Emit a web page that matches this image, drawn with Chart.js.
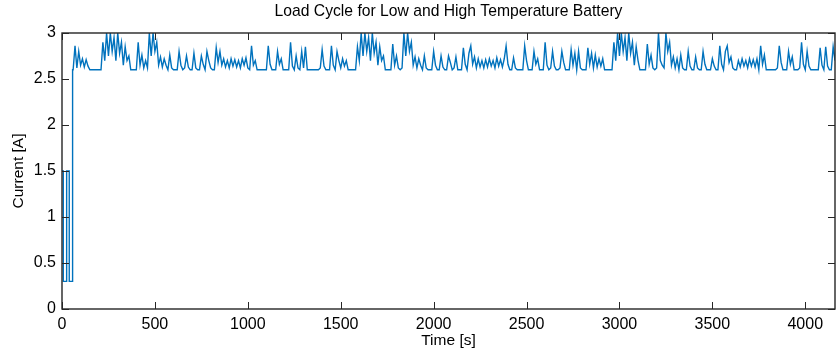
<!DOCTYPE html>
<html>
<head>
<meta charset="utf-8">
<script src="https://cdn.jsdelivr.net/npm/chart.js@4/dist/chart.umd.min.js"></script>
<style>
  html, body { margin: 0; padding: 0; background: #fff; }
  #wrap { width: 838px; height: 353px; position: relative; }
</style>
</head>
<body>
<div id="wrap"><canvas id="loadChart"></canvas></div>
<script>
// pulse phase at the start (time in s, current in A)
const pulseTime = [0, 7, 7, 25, 25, 39, 39, 57, 57];
const pulseCurrent = [1.5, 1.5, 0.3, 0.3, 1.5, 1.5, 0.3, 0.3, 2.6];

// drive cycle, one sample every 10 s starting at 60 s
const cycleStart = 60;
const cycleStep = 10;
const cycleCurrent = [
  2.6, 2.86, 2.62, 2.8,                                       // 60-90
  2.65, 2.72, 2.63, 2.71, 2.64, 2.6, 2.6, 2.6, 2.6, 2.6,      // 100
  2.6, 2.6, 2.9, 2.7, 3.0, 2.75, 3.0, 2.8, 2.95, 2.7,         // 200
  3.0, 2.78, 2.9, 2.65, 2.85, 2.7, 2.75, 2.6, 2.6, 2.6,       // 300
  2.6, 2.9, 2.65, 2.76, 2.62, 2.7, 2.62, 3.0, 2.75, 3.0,      // 400
  2.8, 2.9, 2.65, 2.74, 2.63, 2.72, 2.65, 2.6, 2.76, 2.62,    // 500
  2.6, 2.6, 2.6, 2.8, 2.65, 2.6, 2.62, 2.75, 2.63, 2.6,       // 600
  2.6, 2.78, 2.62, 2.6, 2.6, 2.75, 2.66, 2.6, 2.8, 2.7,       // 700
  2.62, 2.6, 2.6, 2.84, 2.68, 2.8, 2.65, 2.72, 2.63, 2.7,     // 800
  2.62, 2.72, 2.64, 2.71, 2.63, 2.7, 2.62, 2.72, 2.65, 2.73,  // 900
  2.62, 2.6, 2.86, 2.65, 2.7, 2.6, 2.6, 2.6, 2.6, 2.6,        // 1000
  2.6, 2.86, 2.66, 2.6, 2.6, 2.6, 2.8, 2.66, 2.72, 2.6,       // 1100
  2.6, 2.6, 2.6, 2.9, 2.64, 2.6, 2.75, 2.62, 2.6, 2.8,        // 1200
  2.62, 2.85, 2.6, 2.6, 2.6, 2.6, 2.6, 2.6, 2.6, 2.62,        // 1300
  2.82, 2.64, 2.6, 2.6, 2.6, 2.86, 2.65, 2.6, 2.8, 2.7,       // 1400
  2.62, 2.72, 2.64, 2.7, 2.6, 2.6, 2.6, 2.6, 2.6, 2.85,       // 1500
  2.7, 3.0, 2.75, 3.0, 2.8, 2.95, 2.7, 3.0, 2.78, 2.9,        // 1600
  2.65, 2.85, 2.7, 2.75, 2.6, 2.6, 2.6, 2.6, 2.88, 2.65,      // 1700
  2.75, 2.62, 2.6, 2.62, 3.0, 2.75, 3.0, 2.8, 2.9, 2.65,      // 1800
  2.74, 2.62, 2.72, 2.65, 2.6, 2.75, 2.62, 2.6, 2.6, 2.6,     // 1900
  2.8, 2.65, 2.6, 2.6, 2.75, 2.63, 2.6, 2.6, 2.75, 2.68,      // 2000
  2.6, 2.62, 2.74, 2.6, 2.6, 2.6, 2.84, 2.66, 2.6, 2.78,      // 2100
  2.86, 2.66, 2.74, 2.62, 2.72, 2.63, 2.7, 2.62, 2.71, 2.63,  // 2200
  2.72, 2.64, 2.7, 2.62, 2.73, 2.64, 2.71, 2.63, 2.72, 2.86,  // 2300
  2.66, 2.6, 2.6, 2.73, 2.62, 2.6, 2.6, 2.6, 2.6, 2.86,       // 2400
  2.7, 2.6, 2.6, 2.6, 2.8, 2.66, 2.72, 2.6, 2.6, 2.6,         // 2500
  2.9, 2.65, 2.6, 2.62, 2.8, 2.64, 2.6, 2.6, 2.62, 2.8,       // 2600
  2.68, 2.6, 2.6, 2.6, 2.82, 2.65, 2.78, 2.6, 2.8, 2.62,      // 2700
  2.6, 2.6, 2.6, 2.84, 2.66, 2.78, 2.62, 2.76, 2.63, 2.72,    // 2800
  2.64, 2.72, 2.6, 2.6, 2.6, 2.6, 2.6, 2.9, 2.7, 3.0,         // 2900
  2.75, 3.0, 2.8, 2.95, 2.7, 3.0, 2.78, 2.9, 2.65, 2.85,      // 3000
  2.7, 2.6, 2.6, 2.6, 2.6, 2.88, 2.66, 2.76, 2.62, 2.6,       // 3100
  2.62, 3.0, 2.7, 2.65, 2.62, 3.0, 2.8, 2.9, 2.65, 2.74,      // 3200
  2.62, 2.72, 2.6, 2.76, 2.62, 2.6, 2.6, 2.8, 2.64, 2.6,      // 3300
  2.6, 2.74, 2.62, 2.6, 2.6, 2.8, 2.66, 2.6, 2.6, 2.6,        // 3400
  2.72, 2.64, 2.6, 2.6, 2.86, 2.66, 2.6, 2.8, 2.86, 2.68,     // 3500
  2.74, 2.62, 2.6, 2.6, 2.7, 2.63, 2.72, 2.64, 2.7, 2.62,     // 3600
  2.72, 2.64, 2.71, 2.63, 2.72, 2.6, 2.86, 2.66, 2.76, 2.6,   // 3700
  2.6, 2.6, 2.6, 2.6, 2.6, 2.62, 2.86, 2.68, 2.6, 2.6,        // 3800
  2.6, 2.8, 2.66, 2.74, 2.6, 2.6, 2.6, 2.62, 2.9, 2.66,       // 3900
  2.6, 2.8, 2.64, 2.6, 2.6, 2.6, 2.6, 2.6, 2.84, 2.65,        // 4000
  2.6, 2.85, 2.64, 2.6, 2.6, 2.85, 2.7                        // 4100-4160
];

// axis ticks
const xTicks = [0, 500, 1000, 1500, 2000, 2500, 3000, 3500, 4000];
const yTicks = [0, 0.5, 1, 1.5, 2, 2.5, 3];
const xMax = 4160;

// build the point list
const points = [];
pulseTime.forEach((t, i) => points.push({ x: t, y: pulseCurrent[i] }));
cycleCurrent.forEach((v, i) => points.push({ x: cycleStart + i * cycleStep, y: v }));

const axisColor = '#262626';
const tickLen = 7;

// MATLAB style box with inward ticks on all four sides
const boxPlugin = {
    id: 'matlabBox',
    afterDraw(chart) {
        const ctx = chart.ctx;
        const { left, right, top, bottom } = chart.chartArea;
        const xs = chart.scales.x;
        const ys = chart.scales.y;
        ctx.save();
        ctx.strokeStyle = axisColor;
        ctx.lineWidth = 1;
        ctx.beginPath();
        xTicks.forEach(v => {
            const px = Math.round(xs.getPixelForValue(v)) + 0.5;
            ctx.moveTo(px, bottom); ctx.lineTo(px, bottom - tickLen);
            ctx.moveTo(px, top); ctx.lineTo(px, top + tickLen);
        });
        yTicks.forEach(v => {
            const py = Math.round(ys.getPixelForValue(v)) + 0.5;
            ctx.moveTo(left, py); ctx.lineTo(left + tickLen, py);
            ctx.moveTo(right, py); ctx.lineTo(right - tickLen, py);
        });
        ctx.stroke();
        ctx.lineWidth = 1.4;
        ctx.strokeRect(left, top, right - left, bottom - top);
        ctx.restore();
    }
};

const fontFamily = '"Liberation Sans", Arial, Helvetica, sans-serif';

new Chart(document.getElementById('loadChart').getContext('2d'), {
    type: 'line',
    data: {
        datasets: [{
            label: 'Current',
            data: points,
            borderColor: '#0072BD',
            borderWidth: 1.4,
            pointRadius: 0,
            tension: 0,
            fill: false
        }]
    },
    options: {
        responsive: true,
        maintainAspectRatio: false,
        animation: false,
        layout: { padding: { left: 0, right: 3, top: 0, bottom: 0 } },
        scales: {
            x: {
                type: 'linear',
                min: 0,
                max: xMax,
                afterBuildTicks: s => { s.ticks = xTicks.map(v => ({ value: v })); },
                afterFit: s => { s.height = 44; },
                grid: { display: false, drawTicks: false },
                border: { display: false },
                ticks: {
                    color: '#000',
                    padding: 6,
                    maxRotation: 0,
                    font: { family: fontFamily, size: 16 },
                    callback: v => String(v)
                },
                title: {
                    display: true,
                    text: 'Time [s]',
                    color: '#000',
                    font: { family: fontFamily, size: 15.5 },
                    padding: { top: 0, bottom: 3 }
                }
            },
            // top axis only carries the title so it is centred over the plot
            xTop: {
                type: 'linear',
                position: 'top',
                min: 0,
                max: xMax,
                afterFit: s => { s.height = 33; },
                grid: { display: false, drawTicks: false },
                border: { display: false },
                ticks: { display: false },
                title: {
                    display: true,
                    text: 'Load Cycle for Low and High Temperature Battery',
                    color: '#000',
                    font: { family: fontFamily, size: 15.7 },
                    padding: { top: 2, bottom: 0 }
                }
            },
            y: {
                min: 0,
                max: 3,
                afterBuildTicks: s => { s.ticks = yTicks.map(v => ({ value: v })); },
                afterFit: s => { s.width = 62; },
                grid: { display: false, drawTicks: false },
                border: { display: false },
                ticks: {
                    color: '#000',
                    padding: 6,
                    font: { family: fontFamily, size: 16 },
                    callback: v => String(v)
                },
                title: {
                    display: true,
                    text: 'Current [A]',
                    color: '#000',
                    font: { family: fontFamily, size: 15.5 },
                    padding: { top: 9, bottom: 0 }
                }
            }
        },
        plugins: {
            legend: { display: false },
            tooltip: { enabled: false }
        }
    },
    plugins: [boxPlugin]
});
</script>
</body>
</html>
